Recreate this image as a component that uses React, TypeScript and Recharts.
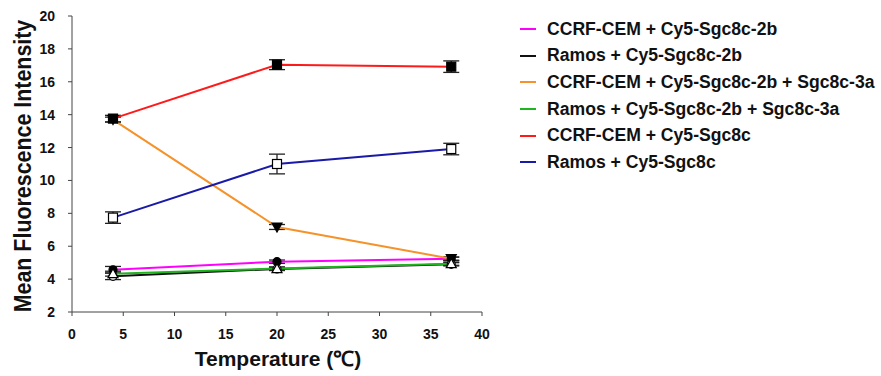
import React from 'react';
import { LineChart, Line, XAxis, YAxis, ErrorBar, Label } from 'recharts';

const temps = [4, 20, 37];

const cemCy5_2b = [4.57, 5.06, 5.24];
const cemCy5_2bErr = [0.2, 0.1, 0.1];
const ramosCy5_2b = [4.17, 4.62, 4.9];
const ramosCy5_2bErr = [0.2, 0.1, 0.1];
const cemCy5_2b_3a = [13.7, 7.17, 5.24];
const cemCy5_2b_3aErr = [0.15, 0.15, 0.1];
const ramosCy5_2b_3a = [4.33, 4.64, 4.94];
const ramosCy5_2b_3aErr = [0.15, 0.1, 0.1];
const cemCy5 = [13.76, 17.04, 16.92];
const cemCy5Err = [0.2, 0.3, 0.35];
const ramosCy5 = [7.74, 11.0, 11.91];
const ramosCy5Err = [0.35, 0.6, 0.35];

const xTicks = [0, 5, 10, 15, 20, 25, 30, 35, 40];
const yTicks = [2, 4, 6, 8, 10, 12, 14, 16, 18, 20];

const data = temps.map((t, i) => ({
  t,
  a: cemCy5_2b[i], aErr: cemCy5_2bErr[i],
  b: ramosCy5_2b[i], bErr: ramosCy5_2bErr[i],
  c: cemCy5_2b_3a[i], cErr: cemCy5_2b_3aErr[i],
  d: ramosCy5_2b_3a[i], dErr: ramosCy5_2b_3aErr[i],
  e: cemCy5[i], eErr: cemCy5Err[i],
  f: ramosCy5[i], fErr: ramosCy5Err[i],
}));

type Kind = 'circle' | 'tri-down' | 'tri-up' | 'square';

const series: { key: string; name: string; color: string; marker: Kind; filled: boolean }[] = [
  { key: 'a', name: 'CCRF-CEM + Cy5-Sgc8c-2b', color: '#ff00ff', marker: 'circle', filled: true },
  { key: 'b', name: 'Ramos + Cy5-Sgc8c-2b', color: '#111111', marker: 'circle', filled: false },
  { key: 'c', name: 'CCRF-CEM + Cy5-Sgc8c-2b + Sgc8c-3a', color: '#f5922a', marker: 'tri-down', filled: true },
  { key: 'd', name: 'Ramos + Cy5-Sgc8c-2b + Sgc8c-3a', color: '#1fb51f', marker: 'tri-up', filled: false },
  { key: 'e', name: 'CCRF-CEM + Cy5-Sgc8c', color: '#ff1a1a', marker: 'square', filled: true },
  { key: 'f', name: 'Ramos + Cy5-Sgc8c', color: '#1a1aa8', marker: 'square', filled: false },
];

const font = '"Liberation Sans", Arial, sans-serif';

function makeDot(marker: Kind, filled: boolean) {
  return (props: any) => {
    const { cx, cy, index } = props;
    if (cx == null || cy == null) return <g key={index} />;
    const fill = filled ? '#000' : '#fff';
    const common = { fill, stroke: '#000', strokeWidth: 1.2 };
    if (marker === 'circle') return <circle key={index} cx={cx} cy={cy} r={4} {...common} />;
    if (marker === 'square') return <rect key={index} x={cx - 4.5} y={cy - 4.5} width={9} height={9} {...common} />;
    if (marker === 'tri-down')
      return <polygon key={index} points={`${cx - 5},${cy - 4} ${cx + 5},${cy - 4} ${cx},${cy + 5}`} {...common} />;
    return <polygon key={index} points={`${cx - 5},${cy + 4} ${cx + 5},${cy + 4} ${cx},${cy - 5}`} {...common} />;
  };
}

const LegendBox = () => (
  <div
    style={{
      position: 'absolute',
      left: 520,
      top: 16,
      fontFamily: font,
      fontWeight: 'bold',
      fontSize: 17.6,
      color: '#111',
    }}
  >
    {series.map((s) => (
      <div key={s.key} style={{ display: 'flex', alignItems: 'center', height: 26.6 }}>
        <div style={{ width: 16, height: 2, background: s.color, marginRight: 11 }} />
        <span style={{ whiteSpace: 'nowrap' }}>{s.name}</span>
      </div>
    ))}
  </div>
);

// y title: the source glyphs look a bit stretched across, so scale slightly
const YTitle = () => {
  const cy = 166;
  const cx = 31;
  return (
    <text
      x={0}
      y={0}
      transform={`translate(${cx} ${cy}) rotate(-90) scale(1 1.12)`}
      textAnchor="middle"
      fill="#111"
      fontSize={21.4}
      fontWeight="bold"
      fontFamily={font}
    >
      Mean Fluorescence Intensity
    </text>
  );
};

const XTitle = () => (
  <text x={278} y={366} textAnchor="middle" fill="#111" fontSize={21} fontWeight="bold" fontFamily={font}>
    Temperature (℃)
  </text>
);

export default function App() {
  return (
    <div style={{ position: 'absolute', left: 0, top: 0, width: 881, height: 376, background: '#fff' }}>
      <LineChart width={881} height={376} data={data} margin={{ top: 16, right: 399, bottom: 0, left: 0 }}>
        <XAxis
          dataKey="t"
          type="number"
          domain={[0, 40]}
          ticks={xTicks}
          height={64}
          stroke="#444"
          tickSize={4}
          tickMargin={13}
          tick={{ fill: '#111', fontSize: 14, fontWeight: 'bold', fontFamily: font }}
        >
          <Label content={<XTitle />} />
        </XAxis>
        <YAxis
          type="number"
          domain={[2, 20]}
          ticks={yTicks}
          interval={0}
          width={72}
          stroke="#444"
          tickSize={4}
          tickMargin={13}
          tick={{ fill: '#111', fontSize: 14, fontWeight: 'bold', fontFamily: font }}
        >
          <Label content={<YTitle />} />
        </YAxis>
        {series.map((s) => (
          <Line
            key={s.key}
            dataKey={s.key}
            name={s.name}
            stroke={s.color}
            strokeWidth={2}
            isAnimationActive={false}
            dot={makeDot(s.marker, s.filled)}
            activeDot={false}
          >
            <ErrorBar dataKey={s.key + 'Err'} width={8} stroke="#222" strokeWidth={1.3} direction="y" />
          </Line>
        ))}
      </LineChart>
      <LegendBox />
    </div>
  );
}
